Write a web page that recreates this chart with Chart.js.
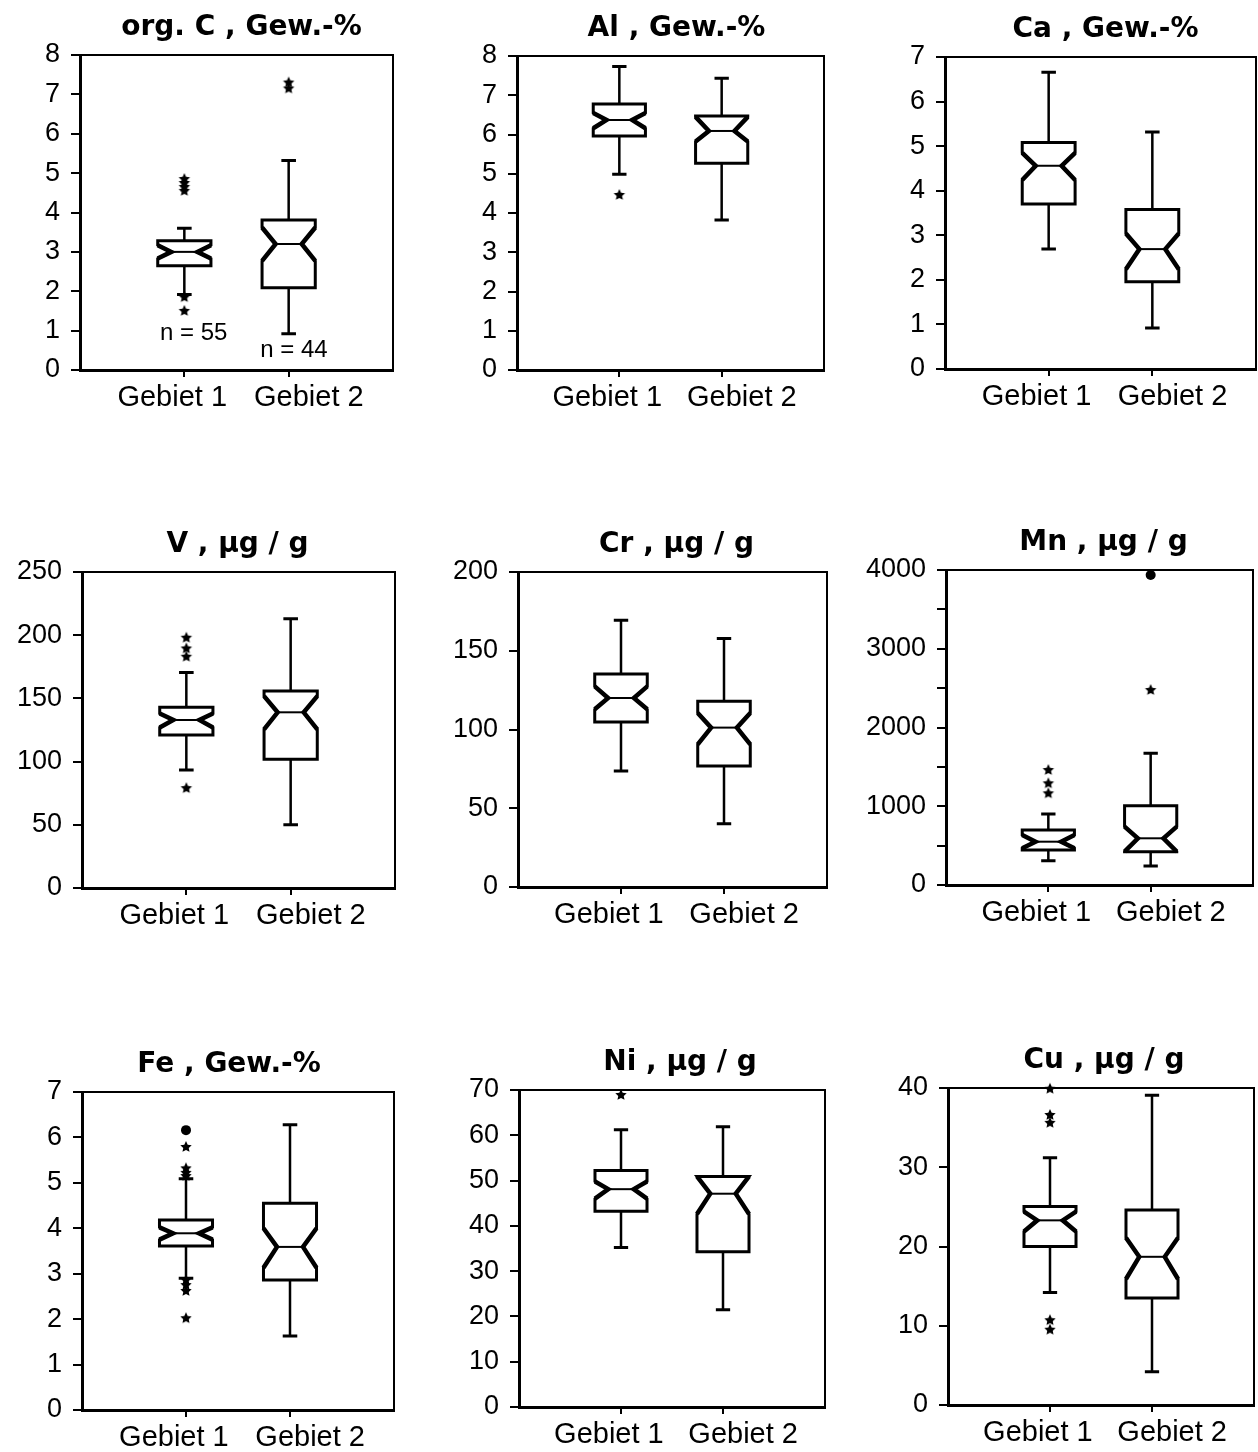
<!DOCTYPE html>
<html>
<head>
<meta charset="utf-8">
<script src="https://cdn.jsdelivr.net/npm/chart.js@4.4.0/dist/chart.umd.min.js"></script>
<style>
  body { margin: 0; background: #fff; }
  #wrap { position: relative; width: 1258px; height: 1452px; }
  #wrap canvas { position: absolute; }
</style>
</head>
<body>
<div id="wrap"></div>
<script>
// categories and panel titles
const categories = ['Gebiet 1', 'Gebiet 2'];
const titles = ['org. C , Gew.-%', 'Al , Gew.-%', 'Ca , Gew.-%',
                'V , μg / g', 'Cr , μg / g', 'Mn , μg / g',
                'Fe , Gew.-%', 'Ni , μg / g', 'Cu , μg / g'];
const yMax = [8, 8, 7, 250, 200, 4000, 7, 70, 40];
const yStep = [1, 1, 1, 50, 50, 500, 1, 10, 10];

// box stats per group: [whisker low, Q1, notch low, median, notch high, Q3, whisker high]
const orgC_box = [[1.92, 2.65, 2.83, 3.0, 3.17, 3.28, 3.6], [0.92, 2.09, 2.77, 3.2, 3.62, 3.81, 5.32]];
const orgC_stars = [[4.55, 4.65, 4.75, 4.85, 1.85, 1.5], [7.15, 7.3]];
const orgC_dots = [[], []];

const al_box = [[4.99, 5.96, 6.16, 6.37, 6.55, 6.78, 7.73], [3.82, 5.27, 5.82, 6.09, 6.45, 6.47, 7.43]];
const al_stars = [[4.46], []];
const al_dots = [[], []];

const ca_box = [[2.69, 3.70, 4.24, 4.56, 4.85, 5.08, 6.66], [0.92, 1.96, 2.24, 2.69, 3.04, 3.58, 5.32]];
const ca_stars = [[], []];
const ca_dots = [[], []];

const v_box = [[93.4, 121, 127, 132.9, 138, 142.9, 170.5], [50, 101.8, 125.5, 139, 151.8, 155.8, 213]];
const v_stars = [[198, 189.5, 183, 79], []];
const v_dots = [[], []];

const cr_box = [[73.7, 104.8, 112.8, 120, 127.4, 135.2, 169.3], [40.2, 76.8, 90.6, 101.2, 110.5, 117.9, 157.7]];
const cr_stars = [[], []];
const cr_dots = [[], []];

const mn_box = [[309, 444, 466, 550, 635, 698, 902], [241, 423, 425, 593, 741, 1007, 1672]];
const mn_stars = [[1460, 1291, 1164], [2476]];
const mn_dots = [[], [3937]];

const fe_box = [[2.9, 3.61, 3.75, 3.89, 4.02, 4.18, 5.09], [1.63, 2.86, 3.13, 3.59, 4.0, 4.55, 6.28]];
const fe_stars = [[5.79, 5.32, 5.22, 5.15, 2.86, 2.75, 2.62, 2.02], []];
const fe_dots = [[6.16], []];

const ni_box = [[35.2, 43.2, 46, 48.1, 49.8, 52.2, 61.2], [21.5, 34.3, 42.6, 47.1, 50.9, 50.9, 61.9]];
const ni_stars = [[68.9], []];
const ni_dots = [[], []];

const cu_box = [[14.2, 20, 21.9, 23.3, 24.4, 25.05, 31.2], [4.2, 13.5, 15.9, 18.7, 21.1, 24.6, 39.1]];
const cu_stars = [[39.9, 36.6, 35.6, 10.7, 9.5], []];
const cu_dots = [[], []];

// sample sizes written in the first panel: [x, y, text]
const nNotes = [[1.09, 0.94, 'n = 55'], [2.05, 0.51, 'n = 44']];

const boxes = [orgC_box, al_box, ca_box, v_box, cr_box, mn_box, fe_box, ni_box, cu_box];
const stars = [orgC_stars, al_stars, ca_stars, v_stars, cr_stars, mn_stars, fe_stars, ni_stars, cu_stars];
const dots = [orgC_dots, al_dots, ca_dots, v_dots, cr_dots, mn_dots, fe_dots, ni_dots, cu_dots];

// plot area rectangles on the page: left, top, right, bottom
const plotRects = [
  [80, 55, 395, 370], [517, 56, 826, 370], [945, 57, 1256, 369],
  [82, 572, 397, 888], [518, 572, 827, 887], [946, 570, 1256, 885],
  [82, 1092, 397, 1410], [519, 1090, 827, 1407], [948, 1088, 1256, 1405]
];
const titleShift = [5, 6, 5, -1, 4, 4, -9, 8, 3];
// category labels sit a little apart from their tick marks in the original
const padBefore = ['', '     '];
const padAfter = ['   ', ''];

const PAD_L = 80, PAD_T = 55, PAD_B = 50, PAD_R = 2;
const sans = '"Liberation Sans", Arial, sans-serif';

function makeStar(r) {
  const c = document.createElement('canvas');
  c.width = c.height = 2 * r + 2;
  const g = c.getContext('2d');
  g.fillStyle = '#000';
  g.beginPath();
  for (let k = 0; k < 10; k++) {
    const a = -Math.PI / 2 + k * Math.PI / 5;
    const rr = k % 2 ? r * 0.48 : r;
    g.lineTo(r + 1 + rr * Math.cos(a), r + 1 + rr * Math.sin(a));
  }
  g.closePath();
  g.fill();
  return c;
}
const starImg = makeStar(6);

function boxPlugin(idx) {
  return {
    id: 'notchBox' + idx,
    beforeDatasetsDraw(chart) {
      const { ctx, scales: { x, y } } = chart;
      ctx.save();
      ctx.strokeStyle = '#000';
      ctx.lineJoin = 'miter';
      boxes[idx].forEach((b, i) => {
        const [lo, q1, nLo, med, nHi, q3, hi] = b;
        const c = i + 1;
        const xc = x.getPixelForValue(c);
        const xl = x.getPixelForValue(c - 0.255), xr = x.getPixelForValue(c + 0.255);
        const ind = x.getPixelForValue(c + 0.13) - xc;
        const cap = x.getPixelForValue(c + 0.07) - xc;
        // whiskers
        ctx.lineWidth = 2.5;
        ctx.beginPath();
        ctx.moveTo(xc, y.getPixelForValue(hi)); ctx.lineTo(xc, y.getPixelForValue(q3));
        ctx.moveTo(xc, y.getPixelForValue(q1)); ctx.lineTo(xc, y.getPixelForValue(lo));
        ctx.stroke();
        ctx.lineWidth = 3;
        ctx.beginPath();
        ctx.moveTo(xc - cap, y.getPixelForValue(hi)); ctx.lineTo(xc + cap, y.getPixelForValue(hi));
        ctx.moveTo(xc - cap, y.getPixelForValue(lo)); ctx.lineTo(xc + cap, y.getPixelForValue(lo));
        ctx.stroke();
        // notched box
        const yq1 = y.getPixelForValue(q1), yq3 = y.getPixelForValue(q3);
        const ynl = y.getPixelForValue(nLo), ynh = y.getPixelForValue(nHi), ym = y.getPixelForValue(med);
        ctx.beginPath();
        ctx.moveTo(xl, yq3); ctx.lineTo(xr, yq3); ctx.lineTo(xr, ynh);
        ctx.lineTo(xr - ind, ym); ctx.lineTo(xr, ynl); ctx.lineTo(xr, yq1);
        ctx.lineTo(xl, yq1); ctx.lineTo(xl, ynl); ctx.lineTo(xl + ind, ym);
        ctx.lineTo(xl, ynh); ctx.closePath();
        ctx.fillStyle = '#fff';
        ctx.fill();
        ctx.lineWidth = 3;
        ctx.stroke();
        // thick notch sides
        ctx.lineWidth = 4.5;
        ctx.beginPath();
        ctx.moveTo(xl, ynh); ctx.lineTo(xl + ind, ym); ctx.lineTo(xl, ynl);
        ctx.moveTo(xr, ynh); ctx.lineTo(xr - ind, ym); ctx.lineTo(xr, ynl);
        ctx.stroke();
        // median
        ctx.lineWidth = 2;
        ctx.beginPath();
        ctx.moveTo(xl + ind, ym); ctx.lineTo(xr - ind, ym);
        ctx.stroke();
      });
      ctx.restore();
    },
    afterDraw(chart) {
      const { ctx, chartArea: a, scales: { x, y } } = chart;
      ctx.save();
      // top and right frame
      ctx.strokeStyle = '#000';
      ctx.lineWidth = 2;
      ctx.beginPath();
      ctx.moveTo(a.left, a.top); ctx.lineTo(a.right, a.top); ctx.lineTo(a.right, a.bottom);
      ctx.stroke();
      // title
      ctx.fillStyle = '#000';
      ctx.font = 'bold 28px "DejaVu Sans", sans-serif';
      ctx.textAlign = 'center';
      ctx.textBaseline = 'alphabetic';
      ctx.fillText(titles[idx], (a.left + a.right) / 2 + titleShift[idx], a.top - 20);
      if (idx === 0) {
        ctx.font = '24px ' + sans;
        ctx.textBaseline = 'middle';
        nNotes.forEach(n => ctx.fillText(n[2], x.getPixelForValue(n[0]), y.getPixelForValue(n[1])));
      }
      ctx.restore();
    }
  };
}

const wrap = document.getElementById('wrap');
plotRects.forEach((r, idx) => {
  const [l, t, rt, b] = r;
  const cv = document.createElement('canvas');
  const w = PAD_L + (rt - l) + PAD_R;
  const h = PAD_T + (b - t) + PAD_B;
  cv.width = w; cv.height = h;
  cv.style.width = w + 'px'; cv.style.height = h + 'px';
  cv.style.left = (l - PAD_L) + 'px';
  cv.style.top = (t - PAD_T) + 'px';
  wrap.appendChild(cv);

  const starPts = [], dotPts = [];
  stars[idx].forEach((vals, i) => vals.forEach(v => starPts.push({ x: i + 1, y: v })));
  dots[idx].forEach((vals, i) => vals.forEach(v => dotPts.push({ x: i + 1, y: v })));

  const isMn = idx === 5;
  new Chart(cv, {
    type: 'scatter',
    data: {
      datasets: [
        { data: starPts, pointStyle: starImg, borderWidth: 0, clip: false },
        { data: dotPts, pointStyle: 'circle', pointRadius: 5, backgroundColor: '#000', borderWidth: 0, clip: false }
      ]
    },
    options: {
      responsive: false,
      animation: false,
      events: [],
      layout: { padding: { left: 0, top: PAD_T, right: PAD_R, bottom: 0 } },
      plugins: { legend: { display: false }, tooltip: { enabled: false } },
      scales: {
        x: {
          type: 'linear', min: 0, max: 3,
          afterBuildTicks: s => { s.ticks = [{ value: 1 }, { value: 2 }]; },
          afterFit: s => { s.height = PAD_B; },
          grid: { drawOnChartArea: false, drawTicks: true, tickLength: 7, lineWidth: 2, color: '#000' },
          border: { color: '#000', width: 3 },
          ticks: {
            color: '#000', font: { family: sans, size: 29 }, padding: 4,
            maxRotation: 0, autoSkip: false,
            callback: v => padBefore[v - 1] + categories[v - 1] + padAfter[v - 1]
          }
        },
        y: {
          min: 0, max: yMax[idx],
          afterFit: s => { s.width = PAD_L; },
          grid: { drawOnChartArea: false, drawTicks: true, tickLength: 9, lineWidth: 2, color: '#000' },
          border: { color: '#000', width: 3 },
          ticks: {
            stepSize: yStep[idx], autoSkip: false, color: '#000', padding: 11,
            font: { family: sans, size: 27 },
            callback: v => (isMn && v % 1000 !== 0) ? '' : String(v)
          }
        }
      }
    },
    plugins: [boxPlugin(idx)]
  });
});
</script>
</body>
</html>
